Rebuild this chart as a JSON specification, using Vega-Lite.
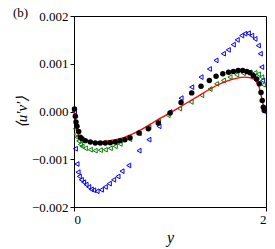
{
  "$schema": "https://vega.github.io/schema/vega-lite/v6.json",
  "autosize": {"type": "none"},
  "padding": {"left": 74, "top": 16, "right": 9, "bottom": 42},
  "width": 192,
  "height": 191,
  "background": "white",
  "title": {"text": "(b)", "anchor": "start", "frame": "group", "font": "Liberation Serif", "fontSize": 13, "fontWeight": "normal", "color": "black", "dx": -61, "dy": 10, "offset": 0},
  "config": {
    "view": {"stroke": "black", "strokeWidth": 1}
  },
  "data": {"values": [
    {"s": "blue", "y": 0.005, "v": 0.0},
    {"s": "blue", "y": 0.014, "v": -0.00078},
    {"s": "blue", "y": 0.031, "v": -0.0011},
    {"s": "blue", "y": 0.042, "v": -0.00127},
    {"s": "blue", "y": 0.055, "v": -0.00136},
    {"s": "blue", "y": 0.076, "v": -0.00143},
    {"s": "blue", "y": 0.1, "v": -0.00148},
    {"s": "blue", "y": 0.125, "v": -0.00153},
    {"s": "blue", "y": 0.153, "v": -0.00158},
    {"s": "blue", "y": 0.18, "v": -0.00163},
    {"s": "blue", "y": 0.205, "v": -0.00165},
    {"s": "blue", "y": 0.24, "v": -0.00167},
    {"s": "blue", "y": 0.285, "v": -0.00164},
    {"s": "blue", "y": 0.326, "v": -0.00158},
    {"s": "blue", "y": 0.368, "v": -0.00151},
    {"s": "blue", "y": 0.413, "v": -0.00143},
    {"s": "blue", "y": 0.458, "v": -0.00136},
    {"s": "blue", "y": 0.5, "v": -0.00125},
    {"s": "blue", "y": 0.57, "v": -0.00113},
    {"s": "blue", "y": 0.677, "v": -0.00082},
    {"s": "blue", "y": 0.78, "v": -0.00059},
    {"s": "blue", "y": 0.885, "v": -0.00031},
    {"s": "blue", "y": 1.0, "v": -0.00001},
    {"s": "blue", "y": 1.115, "v": 0.00028},
    {"s": "blue", "y": 1.226, "v": 0.00051},
    {"s": "blue", "y": 1.323, "v": 0.00072},
    {"s": "blue", "y": 1.41, "v": 0.00089},
    {"s": "blue", "y": 1.479, "v": 0.00107},
    {"s": "blue", "y": 1.556, "v": 0.00121},
    {"s": "blue", "y": 1.607, "v": 0.00129},
    {"s": "blue", "y": 1.659, "v": 0.0014},
    {"s": "blue", "y": 1.7, "v": 0.0015},
    {"s": "blue", "y": 1.747, "v": 0.00159},
    {"s": "blue", "y": 1.78, "v": 0.00163},
    {"s": "blue", "y": 1.816, "v": 0.00164},
    {"s": "blue", "y": 1.851, "v": 0.00159},
    {"s": "blue", "y": 1.885, "v": 0.00152},
    {"s": "blue", "y": 1.92, "v": 0.00138},
    {"s": "blue", "y": 1.94, "v": 0.00121},
    {"s": "blue", "y": 1.955, "v": 0.00093},
    {"s": "blue", "y": 1.965, "v": 0.00065},
    {"s": "blue", "y": 1.985, "v": 0.0},
    {"s": "green", "y": 0.014, "v": -0.00036},
    {"s": "green", "y": 0.021, "v": -0.00047},
    {"s": "green", "y": 0.031, "v": -0.00054},
    {"s": "green", "y": 0.049, "v": -0.00062},
    {"s": "green", "y": 0.066, "v": -0.00069},
    {"s": "green", "y": 0.083, "v": -0.00073},
    {"s": "green", "y": 0.118, "v": -0.00077},
    {"s": "green", "y": 0.17, "v": -0.0008},
    {"s": "green", "y": 0.22, "v": -0.00082},
    {"s": "green", "y": 0.274, "v": -0.00081},
    {"s": "green", "y": 0.326, "v": -0.0008},
    {"s": "green", "y": 0.378, "v": -0.00077},
    {"s": "green", "y": 0.43, "v": -0.00073},
    {"s": "green", "y": 0.48, "v": -0.00068},
    {"s": "green", "y": 0.58, "v": -0.00058},
    {"s": "green", "y": 0.68, "v": -0.00046},
    {"s": "green", "y": 0.78, "v": -0.00033},
    {"s": "green", "y": 0.88, "v": -0.00021},
    {"s": "green", "y": 0.98, "v": -0.00008},
    {"s": "green", "y": 1.1, "v": 0.00006},
    {"s": "green", "y": 1.22, "v": 0.0002},
    {"s": "green", "y": 1.33, "v": 0.00034},
    {"s": "green", "y": 1.417, "v": 0.00047},
    {"s": "green", "y": 1.486, "v": 0.00058},
    {"s": "green", "y": 1.556, "v": 0.00065},
    {"s": "green", "y": 1.625, "v": 0.00072},
    {"s": "green", "y": 1.695, "v": 0.00077},
    {"s": "green", "y": 1.764, "v": 0.0008},
    {"s": "green", "y": 1.833, "v": 0.00082},
    {"s": "green", "y": 1.885, "v": 0.00081},
    {"s": "green", "y": 1.92, "v": 0.00078},
    {"s": "green", "y": 1.955, "v": 0.00072},
    {"s": "green", "y": 1.972, "v": 0.00056},
    {"s": "red", "y": 0.0, "v": 0.0},
    {"s": "red", "y": 0.01, "v": -0.00018},
    {"s": "red", "y": 0.02, "v": -0.00032},
    {"s": "red", "y": 0.04, "v": -0.00045},
    {"s": "red", "y": 0.06, "v": -0.00053},
    {"s": "red", "y": 0.1, "v": -0.0006},
    {"s": "red", "y": 0.15, "v": -0.00063},
    {"s": "red", "y": 0.2, "v": -0.00064},
    {"s": "red", "y": 0.25, "v": -0.00064},
    {"s": "red", "y": 0.3, "v": -0.00063},
    {"s": "red", "y": 0.4, "v": -0.0006},
    {"s": "red", "y": 0.5, "v": -0.00056},
    {"s": "red", "y": 0.6, "v": -0.00048},
    {"s": "red", "y": 0.7, "v": -0.00038},
    {"s": "red", "y": 0.8, "v": -0.00026},
    {"s": "red", "y": 0.9, "v": -0.00014},
    {"s": "red", "y": 1.0, "v": -0.00003},
    {"s": "red", "y": 1.1, "v": 0.00009},
    {"s": "red", "y": 1.2, "v": 0.00021},
    {"s": "red", "y": 1.3, "v": 0.00033},
    {"s": "red", "y": 1.4, "v": 0.00045},
    {"s": "red", "y": 1.5, "v": 0.00056},
    {"s": "red", "y": 1.6, "v": 0.00064},
    {"s": "red", "y": 1.7, "v": 0.0007},
    {"s": "red", "y": 1.78, "v": 0.00072},
    {"s": "red", "y": 1.85, "v": 0.0007},
    {"s": "red", "y": 1.9, "v": 0.00062},
    {"s": "red", "y": 1.93, "v": 0.0005},
    {"s": "red", "y": 1.95, "v": 0.00033},
    {"s": "red", "y": 1.97, "v": 0.00015},
    {"s": "red", "y": 1.99, "v": 0.00003},
    {"s": "red", "y": 2.0, "v": 0.0},
    {"s": "black", "y": 0.005, "v": 0.00005},
    {"s": "black", "y": 0.014, "v": -0.0001},
    {"s": "black", "y": 0.021, "v": -0.00022},
    {"s": "black", "y": 0.031, "v": -0.00031},
    {"s": "black", "y": 0.049, "v": -0.00042},
    {"s": "black", "y": 0.066, "v": -0.00054},
    {"s": "black", "y": 0.083, "v": -0.00057},
    {"s": "black", "y": 0.118, "v": -0.00061},
    {"s": "black", "y": 0.17, "v": -0.00064},
    {"s": "black", "y": 0.222, "v": -0.00066},
    {"s": "black", "y": 0.274, "v": -0.00066},
    {"s": "black", "y": 0.326, "v": -0.00066},
    {"s": "black", "y": 0.378, "v": -0.000655},
    {"s": "black", "y": 0.43, "v": -0.00064},
    {"s": "black", "y": 0.48, "v": -0.00061},
    {"s": "black", "y": 0.53, "v": -0.00059},
    {"s": "black", "y": 0.583, "v": -0.00055},
    {"s": "black", "y": 0.677, "v": -0.00045},
    {"s": "black", "y": 0.774, "v": -0.00036},
    {"s": "black", "y": 0.878, "v": -0.00024},
    {"s": "black", "y": 1.0, "v": -0.00003},
    {"s": "black", "y": 1.115, "v": 0.00019},
    {"s": "black", "y": 1.226, "v": 0.00039},
    {"s": "black", "y": 1.323, "v": 0.00053},
    {"s": "black", "y": 1.41, "v": 0.00065},
    {"s": "black", "y": 1.48, "v": 0.00074},
    {"s": "black", "y": 1.55, "v": 0.00079},
    {"s": "black", "y": 1.61, "v": 0.00082},
    {"s": "black", "y": 1.66, "v": 0.00084},
    {"s": "black", "y": 1.71, "v": 0.00086},
    {"s": "black", "y": 1.757, "v": 0.00086},
    {"s": "black", "y": 1.8, "v": 0.00084},
    {"s": "black", "y": 1.833, "v": 0.00081},
    {"s": "black", "y": 1.868, "v": 0.00075},
    {"s": "black", "y": 1.903, "v": 0.00068},
    {"s": "black", "y": 1.93, "v": 0.00058},
    {"s": "black", "y": 1.948, "v": 0.0004},
    {"s": "black", "y": 1.961, "v": 0.00023},
    {"s": "black", "y": 1.972, "v": 0.00009},
    {"s": "black", "y": 1.982, "v": 0.00002}
  ]},
  "encoding": {
    "x": {"field": "y", "type": "quantitative", "scale": {"domain": [0, 2], "nice": false, "zero": false}, "axis": {"title": "y", "values": [0, 1, 2], "format": "d", "titlePadding": 3, "grid": false, "domainColor": "black", "tickColor": "black", "tickSize": 4, "labelFont": "Liberation Serif", "labelFontSize": 13, "labelColor": "black", "labelPadding": 2, "titleFont": "Liberation Serif", "titleFontWeight": "normal", "titleColor": "black", "titleFontStyle": "italic", "titleFontSize": 16}},
    "y": {"field": "v", "type": "quantitative", "scale": {"domain": [-0.002, 0.002], "nice": false, "zero": false}, "axis": {"title": "⟨u′v′⟩", "values": [-0.002, -0.001, 0, 0.001, 0.002], "format": ".3f", "titlePadding": 2, "grid": false, "domainColor": "black", "tickColor": "black", "tickSize": 4, "labelFont": "Liberation Serif", "labelFontSize": 13, "labelColor": "black", "labelPadding": 2, "titleFont": "Liberation Serif", "titleFontWeight": "normal", "titleColor": "black", "titleFontStyle": "italic", "titleFontSize": 15}}
  },
  "layer": [
    {"transform": [{"filter": "datum.s === 'blue'"}], "mark": {"type": "point", "shape": "triangle-left", "filled": false, "color": "#0000ff", "size": 22, "strokeWidth": 1, "opacity": 1}},
    {"transform": [{"filter": "datum.s === 'green'"}], "mark": {"type": "point", "shape": "triangle-left", "filled": false, "color": "#008000", "size": 22, "strokeWidth": 1, "opacity": 1}},
    {"transform": [{"filter": "datum.s === 'red'"}], "mark": {"type": "line", "color": "#ff0000", "strokeWidth": 1.3, "interpolate": "monotone"}},
    {"transform": [{"filter": "datum.s === 'black'"}], "mark": {"type": "circle", "color": "black", "size": 30, "opacity": 1}}
  ]
}
